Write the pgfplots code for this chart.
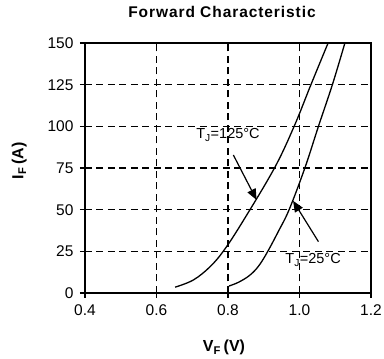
\documentclass[border=0pt]{standalone}
\usepackage{fontspec}
\setmainfont{Liberation Sans}
\usepackage{pgfplots}
\pgfplotsset{compat=1.18}
\usetikzlibrary{arrows.meta}
\begin{document}
\begin{tikzpicture}
\useasboundingbox (-85pt,-66pt) rectangle (299pt,293pt);
\begin{axis}[
  at={(0,0)}, anchor=south west,
  scale only axis, width=286pt, height=250pt,
  xmin=0.4, xmax=1.2, ymin=0, ymax=150,
  xtick={0.4,0.6,0.8,1.0,1.2}, ytick={0,25,50,75,100,125,150},
  xticklabel style={/pgf/number format/.cd, fixed, fixed zerofill, precision=1},
  /pgf/number format/assume math mode=true,
  ticklabel style={font=\fontsize{15.5}{18}\selectfont},
  xtick pos=bottom, ytick pos=left,
  tick align=outside, major tick length=5pt,
  tick style={black, line width=1.2pt},
  xticklabel shift=3pt, yticklabel shift=3pt,
  grid=major,
  major grid style={black, line width=1.2pt, dash pattern=on 7pt off 4.5pt},
  axis line style={black, line width=1.3pt},
  clip=false,
]
\addplot[black, line width=1.3pt, smooth, tension=0.6] coordinates {
 (0.652,3.5) (0.703,7.8) (0.750,15.8) (0.790,26) (0.843,43.5)
 (0.930,75) (0.985,100) (1.032,125) (1.080,150)};
\addplot[black, line width=1.3pt, smooth, tension=0.6] coordinates {
 (0.803,4.2) (0.830,6.5) (0.860,10.5) (0.885,16) (0.910,24.5) (0.941,37)
 (0.971,50) (1.015,75) (1.053,100) (1.092,125) (1.127,150)};
\draw[line width=2pt, black] (rel axis cs:0,0) -- (rel axis cs:0,1);
\draw[line width=2pt, black] (rel axis cs:0,0) -- (rel axis cs:1,0);
\draw[black, line width=1.2pt, -{Triangle[length=11pt,width=9pt]}] (axis cs:0.815,82.8) -- (axis cs:0.880,55.8);
\draw[black, line width=1.2pt, -{Triangle[length=11pt,width=9pt]}] (axis cs:1.053,30.8) -- (axis cs:0.982,55.3);
\node[font=\fontsize{14.5}{16}\selectfont, anchor=center] at (axis cs:0.800,94.8) {T\textsubscript{J}=125°C};
\node[font=\fontsize{14.5}{16}\selectfont, anchor=center] at (axis cs:1.038,19.8) {T\textsubscript{J}=25°C};
\end{axis}
\node[anchor=base, font=\bfseries\addfontfeature{LetterSpace=6}\fontsize{15.5}{18}\selectfont] at (137pt,275pt) {Forward Characteristic};
\node[anchor=base, font=\bfseries\fontsize{16}{19}\selectfont] at (139pt,-58.7pt) {V\textsubscript{F}\,(V)};
\node[anchor=base, rotate=90, font=\bfseries\fontsize{16}{19}\selectfont] at (-61.5pt,132pt) {I\textsubscript{F}\,(A)};
\end{tikzpicture}
\end{document}
